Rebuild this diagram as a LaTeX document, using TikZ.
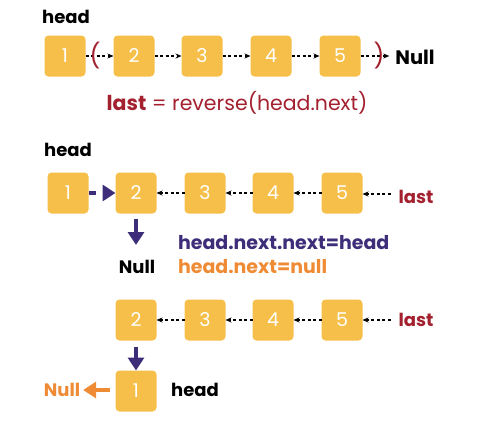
\documentclass[tikz,border=0pt]{standalone}
\usepackage{fontspec}
\setmainfont{Poppins}
\usetikzlibrary{arrows.meta}
\definecolor{boxfill}{HTML}{F6BF4A}
\definecolor{lastred}{HTML}{A3202F}
\definecolor{nextpurple}{HTML}{3E2D78}
\definecolor{nullorange}{HTML}{EF8B35}
\begin{document}
\begin{tikzpicture}[x=1pt,y=-1pt,inner sep=0pt,outer sep=0pt,
listbox/.style={fill=boxfill,rounded corners=4pt,minimum width=41pt,minimum height=41pt,text=white,font=\fontsize{19}{20}\selectfont},
lbl/.style={font=\fontsize{18}{20}\selectfont\bfseries},
rule/.style={anchor=west,font=\fontsize{19}{20}\selectfont\bfseries},
ptr/.style={-{Stealth[length=6pt,width=5pt]},line width=1.6pt,dash pattern=on 3pt off 2.5pt},
bigptr/.style={-{Triangle[length=13pt,width=16pt]},line width=4pt}]
\useasboundingbox (0,0) rectangle (480,431);
% before the call
\draw (65,56) node[listbox] (a1) {1};
\draw (134,56) node[listbox] (a2) {2};
\draw (202,56) node[listbox] (a3) {3};
\draw (271,56) node[listbox] (a4) {4};
\draw (340,56) node[listbox] (a5) {5};
\draw (66,17) node[lbl] (ahead) {head};
\draw (415,57) node[lbl,font=\fontsize{19.5}{20}\selectfont\bfseries] (anull) {Null};
\draw[ptr] (a1.east) -- (a2.west);
\draw[ptr] (a2.east) -- (a3.west);
\draw[ptr] (a3.east) -- (a4.west);
\draw[ptr] (a4.east) -- (a5.west);
\draw (anull.west) ++(-6,0) coordinate (an);
\draw[ptr] (a5.east) -- (a5.east -| an);
\draw (95,56) node[text=lastred,font=\fontsize{24}{24}\selectfont] (popen) {(};
\draw (379,56) node[text=lastred,font=\fontsize{24}{24}\selectfont] (pclose) {)};
\draw (237,103) node[text=lastred,font=\fontsize{20.5}{22}\selectfont] (call) {\textbf{last} = reverse(head.next)};
% after the call
\draw (68,193) node[listbox] (b1) {1};
\draw (136,193) node[listbox] (b2) {2};
\draw (205,193) node[listbox] (b3) {3};
\draw (273,193) node[listbox] (b4) {4};
\draw (342,193) node[listbox] (b5) {5};
\draw (68,150) node[lbl] (bhead) {head};
\draw (416,197) node[lbl,text=lastred] (blast) {last};
\draw (137,267) node[lbl] (bnull) {Null};
\draw[ptr] (b3.west) -- (b2.east);
\draw[ptr] (b4.west) -- (b3.east);
\draw[ptr] (b5.west) -- (b4.east);
\draw (blast.west) ++(-8,-3) coordinate (bl);
\draw[ptr] (bl) -- (b5.east |- bl);
\draw[bigptr,nextpurple,dash pattern=on 7pt off 7pt] (b1.east) -- (b2.west);
\draw (b2.south) ++(0,5) coordinate (bd);
\draw[bigptr,nextpurple] (bd) -- (bd |- 0,245);
\draw (178,243) node[rule,text=nextpurple] (nextnext) {head.next.next=head};
\draw (178,267) node[rule,text=nullorange] (nextnull) {head.next=null};
% last step
\draw (136,320) node[listbox] (c2) {2};
\draw (205,320) node[listbox] (c3) {3};
\draw (273,320) node[listbox] (c4) {4};
\draw (342,320) node[listbox] (c5) {5};
\draw (136,391) node[listbox] (c1) {1};
\draw (416,320) node[lbl,text=lastred] (clast) {last};
\draw (62,390) node[lbl,text=nullorange] (cnull) {Null};
\draw (195,390) node[lbl] (chead) {head};
\draw[ptr] (c3.west) -- (c2.east);
\draw[ptr] (c4.west) -- (c3.east);
\draw[ptr] (c5.west) -- (c4.east);
\draw (clast.west) ++(-8,0) coordinate (cl);
\draw[ptr] (cl) -- (c5.east |- cl);
\draw (c2.south) ++(0,6) coordinate (cd);
\draw[bigptr,nextpurple] (cd) -- (c1.north);
\draw (c1.west) ++(-6,-1) coordinate (cw);
\draw (cnull.east) ++(3,0) coordinate (ce);
\draw[bigptr,nullorange] (cw) -- (ce |- cw);
\end{tikzpicture}
\end{document}
